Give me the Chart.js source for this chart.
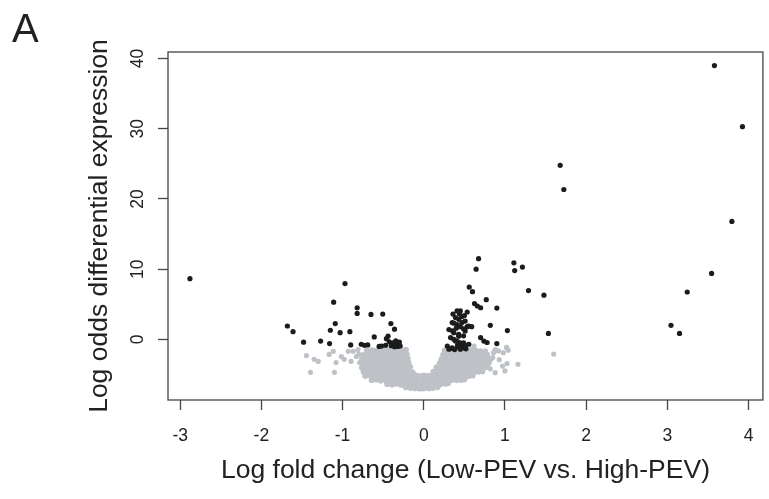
<!DOCTYPE html>
<html>
<head>
<meta charset="utf-8">
<script src="https://cdn.jsdelivr.net/npm/chart.js@4.4.0/dist/chart.umd.min.js"></script>
<style>
  body { margin: 0; background: #fff; }
  #wrap { width: 769px; height: 499px; }
</style>
</head>
<body>
<div id="wrap"><canvas id="grafico"></canvas></div>
<script>
const xTicks = [-3, -2, -1, 0, 1, 2, 3, 4];
const yTicks = [0, 10, 20, 30, 40];
const xTitle = 'Log fold change (Low-PEV vs. High-PEV)';
const yTitle = 'Log odds differential expression';

// significant genes (black)
const sigFar = [
  [-2.88, 8.65], [1.11, 10.9], [1.12, 9.8], [1.215, 10.3], [1.29, 6.95], [1.48, 6.3],
  [1.535, 0.85], [1.68, 24.8], [1.725, 21.35], [3.045, 2.0], [3.15, 0.85], [3.245, 6.75],
  [3.545, 9.4], [3.58, 39.0], [3.795, 16.8], [3.925, 30.3], [1.03, 1.25]
];
const sigLeft = [
  [-1.68, 1.9], [-1.61, 1.1], [-1.48, -0.4], [-1.27, -0.25], [-1.16, -0.6], [-1.11, 5.3],
  [-0.97, 7.95], [-1.09, 2.25], [-1.15, 1.3], [-1.03, 0.95], [-0.91, 1.1], [-0.82, 4.5],
  [-0.82, 3.7], [-0.65, 3.55], [-0.505, 3.6], [-0.405, 2.25], [-0.36, 1.45], [-0.9, -0.8],
  [-0.77, -0.7], [-0.73, -0.85], [-0.69, -0.8], [-0.61, 0.35], [-0.55, -1.0], [-0.46, 0.1],
  [-0.44, 0.45], [-0.425, -0.35], [-0.40, -0.9], [-0.38, -0.5], [-0.345, -0.2], [-0.33, -0.7],
  [-0.30, -0.4], [-0.47, -0.85], [-0.36, -1.05], [-0.32, -1.0], [-0.52, -0.95], [-0.29, -0.95]
];
const sigRight = [
  [0.29, -0.95], [0.31, 1.4], [0.33, 0.25], [0.33, -1.3], [0.35, 2.4], [0.35, -1.2],
  [0.355, 1.2], [0.37, 0.95], [0.37, 0.0], [0.37, 2.3], [0.39, 3.1], [0.39, -0.25],
  [0.41, 4.05], [0.41, 2.1], [0.41, -0.25], [0.415, -0.9], [0.43, 2.85], [0.43, 0.7],
  [0.43, 0.45], [0.43, -1.05], [0.45, 4.05], [0.45, 1.8], [0.45, -0.5], [0.47, 3.25],
  [0.47, 2.4], [0.47, -1.05], [0.49, 1.5], [0.49, 0.5], [0.49, -0.5], [0.495, -1.2],
  [0.51, 2.6], [0.51, 1.2], [0.515, -0.85], [0.535, 3.9], [0.535, 1.8], [0.555, 1.9],
  [0.555, -0.7], [0.59, 1.8], [0.31, -1.4], [0.38, -1.45], [0.45, -1.4], [0.52, -1.35],
  [0.40, 1.6], [0.36, 3.6], [0.44, 3.6], [0.50, 3.4], [0.56, 7.45], [0.60, 6.8],
  [0.625, 5.1], [0.66, 4.75], [0.70, 4.5], [0.77, 5.65], [0.645, 10.0], [0.675, 11.5],
  [0.90, 4.45], [0.82, 2.0], [0.70, 0.25], [0.74, -0.25], [0.78, -0.45], [0.90, -0.6]
];

// not significant (grey)
const nsSparse = [
  [-1.445, -2.3], [-1.35, -2.85], [-1.30, -3.15], [-1.395, -4.7], [-1.165, -2.15], [-1.115, -1.7],
  [-1.08, -3.3], [-1.10, -4.7], [-1.015, -2.45], [-0.98, -2.85], [-0.93, -1.7], [-0.895, -3.15],
  [-0.87, -1.7], [-0.83, -2.45], [-0.81, -1.45], [-0.79, -3.3], [-0.80, -2.1],
  [0.62, -0.95], [0.76, -1.65], [0.88, -1.45], [1.02, -1.15], [1.04, -1.55], [0.98, -1.9],
  [0.92, -1.65], [0.86, -1.9], [1.025, -3.45], [1.16, -3.55], [0.97, -3.8], [1.0, -4.5],
  [0.88, -4.75], [0.80, -3.1], [1.6, -2.1], [0.85, -2.6], [0.93, -2.9], [0.75, -2.3],
  [0.70, -3.8], [0.82, -4.2]
];
const nsCore = [
  [-0.70, -1.62], [-0.64, -1.55], [-0.59, -1.68], [-0.53, -1.5], [-0.48, -1.64], [-0.42, -1.45],
  [-0.37, -1.6], [-0.31, -1.52], [-0.26, -1.66], [-0.22, -1.48],
  [0.26, -1.58], [0.31, -1.66], [0.37, -1.5], [0.42, -1.62], [0.48, -1.55], [0.53, -1.68],
  [0.59, -1.5], [0.64, -1.62], [0.70, -1.7],
  [-0.74, -2.25], [-0.68, -2.15], [-0.63, -2.3], [-0.57, -2.18], [-0.52, -2.26], [-0.46, -2.12],
  [-0.41, -2.28], [-0.35, -2.2], [-0.30, -2.1], [-0.25, -2.24], [-0.21, -2.16],
  [0.24, -2.2], [0.29, -2.12], [0.35, -2.28], [0.40, -2.18], [0.46, -2.25], [0.51, -2.1],
  [0.57, -2.22], [0.62, -2.3], [0.68, -2.15], [0.73, -2.26], [0.78, -2.2],
  [-0.76, -2.82], [-0.70, -2.75], [-0.65, -2.9], [-0.59, -2.78], [-0.54, -2.85], [-0.48, -2.72],
  [-0.43, -2.88], [-0.37, -2.8], [-0.32, -2.74], [-0.26, -2.86], [-0.20, -2.78],
  [0.22, -2.84], [0.27, -2.76], [0.33, -2.9], [0.38, -2.78], [0.44, -2.82], [0.49, -2.72],
  [0.55, -2.86], [0.60, -2.8], [0.66, -2.74], [0.71, -2.88], [0.77, -2.8], [0.82, -2.85],
  [-0.76, -3.42], [-0.71, -3.35], [-0.65, -3.48], [-0.60, -3.38], [-0.54, -3.45], [-0.49, -3.32],
  [-0.43, -3.46], [-0.38, -3.4], [-0.32, -3.36], [-0.27, -3.48], [-0.22, -3.4], [-0.19, -3.3],
  [0.20, -3.38], [0.25, -3.46], [0.31, -3.34], [0.36, -3.42], [0.42, -3.36], [0.47, -3.48],
  [0.53, -3.4], [0.58, -3.32], [0.64, -3.46], [0.69, -3.38], [0.75, -3.44], [0.80, -3.35],
  [-0.76, -4.02], [-0.70, -3.95], [-0.65, -4.08], [-0.59, -3.98], [-0.54, -4.05], [-0.48, -3.92],
  [-0.43, -4.06], [-0.37, -4.0], [-0.32, -3.94], [-0.26, -4.08], [-0.21, -4.0], [-0.17, -3.92],
  [0.16, -3.98], [0.21, -4.06], [0.27, -3.94], [0.32, -4.02], [0.38, -3.96], [0.43, -4.08],
  [0.49, -4.0], [0.54, -3.92], [0.60, -4.05], [0.65, -3.98], [0.71, -4.04], [0.77, -3.95],
  [-0.74, -4.62], [-0.68, -4.55], [-0.63, -4.68], [-0.57, -4.58], [-0.52, -4.65], [-0.46, -4.52],
  [-0.41, -4.66], [-0.35, -4.6], [-0.30, -4.54], [-0.24, -4.68], [-0.19, -4.6], [-0.14, -4.7],
  [0.12, -4.64], [0.17, -4.56], [0.23, -4.68], [0.28, -4.58], [0.34, -4.64], [0.39, -4.52],
  [0.45, -4.66], [0.50, -4.6], [0.56, -4.54], [0.61, -4.68], [0.67, -4.6], [0.72, -4.55],
  [-0.72, -5.2], [-0.66, -5.12], [-0.61, -5.26], [-0.55, -5.15], [-0.50, -5.22], [-0.44, -5.1],
  [-0.39, -5.24], [-0.33, -5.18], [-0.28, -5.12], [-0.22, -5.26], [-0.17, -5.18], [-0.11, -5.1],
  [-0.06, -5.22], [0.0, -5.16], [0.05, -5.24], [0.11, -5.12], [0.16, -5.2], [0.22, -5.26],
  [0.27, -5.14], [0.33, -5.22], [0.38, -5.16], [0.44, -5.24], [0.49, -5.12], [0.55, -5.2],
  [0.60, -5.15],
  [-0.64, -5.78], [-0.58, -5.72], [-0.53, -5.86], [-0.47, -5.76], [-0.42, -5.82], [-0.36, -5.7],
  [-0.31, -5.84], [-0.25, -5.78], [-0.20, -5.72], [-0.14, -5.86], [-0.09, -5.78], [-0.03, -5.7],
  [0.02, -5.82], [0.08, -5.76], [0.13, -5.84], [0.19, -5.72], [0.24, -5.8], [0.30, -5.86],
  [0.35, -5.74], [0.41, -5.8], [0.46, -5.76], [0.50, -5.7],
  [-0.45, -6.35], [-0.39, -6.42], [-0.34, -6.3], [-0.28, -6.45], [-0.23, -6.38], [-0.17, -6.48],
  [-0.12, -6.4], [-0.06, -6.5], [-0.01, -6.44], [0.05, -6.5], [0.10, -6.4], [0.16, -6.46],
  [0.21, -6.36], [0.27, -6.3], [0.30, -6.22],
  [-0.22, -6.82], [-0.16, -6.9], [-0.11, -6.95], [-0.05, -7.0], [0.0, -6.98], [0.06, -6.95],
  [0.11, -6.9], [0.17, -6.8]
];

function pts(list) {
    return list.map(p => ({ x: p[0], y: p[1] }));
}

const fonte = "'Liberation Sans', Arial, sans-serif";
const corTexto = '#222222';
const corEixo = '#444444';
const corSig = '#1c1c1c';
const corNs = '#bec2c7';

const moldura = {
    id: 'moldura',
    afterDraw(chart) {
        const { ctx, chartArea } = chart;
        ctx.save();
        ctx.strokeStyle = corEixo;
        ctx.lineWidth = 1.3;
        ctx.strokeRect(chartArea.left, chartArea.top, chartArea.right - chartArea.left, chartArea.bottom - chartArea.top);
        ctx.fillStyle = corTexto;
        ctx.font = '40px ' + fonte;
        ctx.textBaseline = 'alphabetic';
        ctx.fillText('A', 12, 42);
        ctx.restore();
    }
};

const ctx = document.getElementById('grafico').getContext('2d');
new Chart(ctx, {
    type: 'scatter',
    data: {
        datasets: [
            { label: 'sig', data: pts(sigFar.concat(sigLeft, sigRight)), backgroundColor: corSig, pointRadius: 2.6, borderWidth: 0 },
            { label: 'ns', data: pts(nsSparse), backgroundColor: corNs, pointRadius: 2.6, borderWidth: 0 },
            { label: 'ns core', data: pts(nsCore), backgroundColor: corNs, pointRadius: 3.1, borderWidth: 0 }
        ]
    },
    options: {
        responsive: true,
        maintainAspectRatio: false,
        animation: false,
        layout: { padding: { top: 52, right: 0, bottom: 0, left: 0 } },
        plugins: { legend: { display: false }, tooltip: { enabled: false } },
        scales: {
            x: {
                type: 'linear',
                min: -3.15,
                max: 4.177,
                afterBuildTicks: s => { s.ticks = xTicks.map(v => ({ value: v })); },
                afterFit: s => { s.height = 99; },
                border: { display: false },
                grid: { display: true, drawOnChartArea: false, drawTicks: true, tickLength: 10, tickColor: corEixo, tickWidth: 1.3 },
                ticks: { color: corTexto, font: { family: fonte, size: 17.5 }, padding: 15.5, maxRotation: 0, callback: v => String(v) },
                title: { display: true, text: xTitle, color: corTexto, font: { family: fonte, size: 26.5 }, padding: { top: 0, bottom: 12 } }
            },
            y: {
                type: 'linear',
                min: -8.64,
                max: 40.94,
                afterBuildTicks: s => { s.ticks = yTicks.map(v => ({ value: v })); },
                afterFit: s => { s.width = 168; },
                border: { display: false },
                grid: { display: true, drawOnChartArea: false, drawTicks: true, tickLength: 10, tickColor: corEixo, tickWidth: 1.3 },
                ticks: { color: corTexto, font: { family: fonte, size: 17.5 }, padding: 9.8, minRotation: 90, maxRotation: 90, crossAlign: 'center', callback: v => String(v) },
                title: { display: true, text: yTitle, color: corTexto, font: { family: fonte, size: 26.5 }, padding: { top: 84, bottom: 0 } }
            }
        }
    },
    plugins: [moldura]
});
</script>
</body>
</html>
